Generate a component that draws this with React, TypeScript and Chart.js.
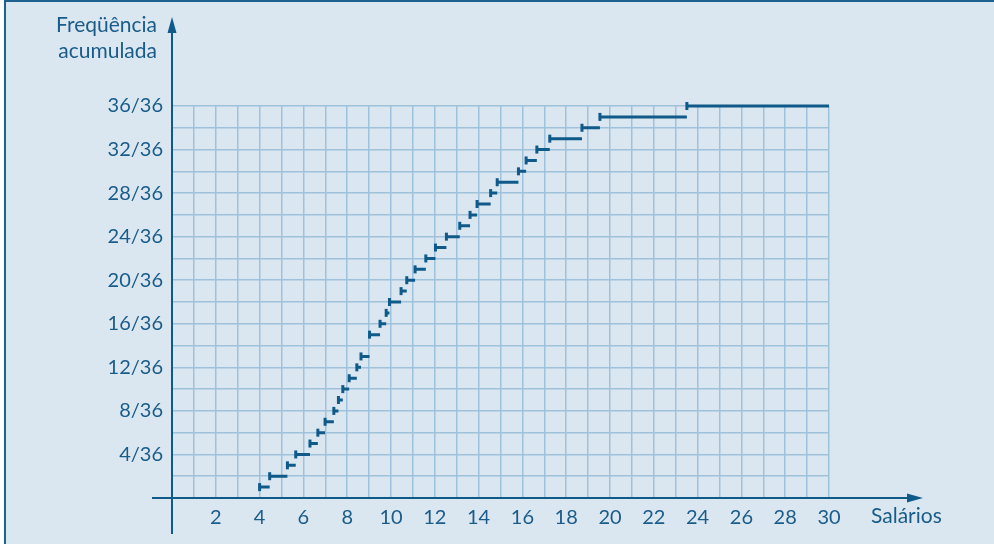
import React, { useEffect, useRef } from "react";
import { Chart, registerables } from "chart.js";

Chart.register(...registerables);

// Cumulative frequency levels (k/36) and the salary where each level starts
const cumFreq = [1, 2, 3, 4, 5, 6, 7, 8, 9, 10, 11, 12, 13, 15, 16, 17, 18, 19, 20, 21, 22, 23, 24, 25, 26, 27, 28, 29, 30, 31, 32, 33, 34, 35, 36];
const stepStarts = [4.0, 4.46, 5.27, 5.65, 6.3, 6.66, 6.99, 7.39, 7.6, 7.8, 8.09, 8.44, 8.63, 9.02, 9.5, 9.78, 9.93, 10.46, 10.72, 11.1, 11.59, 12.03, 12.53, 13.14, 13.61, 13.93, 14.55, 14.85, 15.82, 16.17, 16.66, 17.25, 18.72, 19.54, 23.51];
const salaryMax = 30;
const totalCount = 36;
const xTickLabels = [2, 4, 6, 8, 10, 12, 14, 16, 18, 20, 22, 24, 26, 28, 30];
const yTickLabels = [4, 8, 12, 16, 20, 24, 28, 32, 36];
const yTitleLines = ["Freqüência", "acumulada"];
const xTitle = "Salários";

const INK = "#0f5a88";
const TEXT = "#1a5c89";
const GRID = "#9fc2dc";
const FONT = "Lato, 'Noto Sans', sans-serif";

export default function App() {
  const ref = useRef<HTMLCanvasElement | null>(null);

  useEffect(() => {
    if (!ref.current) return;
    const segData: any[] = [];
    stepStarts.forEach((s, i) => {
      const e = i + 1 < stepStarts.length ? stepStarts[i + 1] : salaryMax;
      segData.push({ x: s, y: cumFreq[i] });
      segData.push({ x: e, y: cumFreq[i] });
      segData.push({ x: e, y: null });
    });
    const markData = stepStarts.map((s, i) => ({ x: s, y: cumFreq[i] }));

    const axesPlugin = {
      id: "axesArrows",
      afterDraw(chart: any) {
        const ctx = chart.ctx;
        const xs = chart.scales.x;
        const ys = chart.scales.y;
        const x0 = xs.getPixelForValue(0);
        const y0 = ys.getPixelForValue(0);
        ctx.save();
        ctx.strokeStyle = INK;
        ctx.fillStyle = INK;
        ctx.lineWidth = 2;
        // y axis
        ctx.beginPath();
        ctx.moveTo(x0, 534);
        ctx.lineTo(x0, 30);
        ctx.stroke();
        ctx.beginPath();
        ctx.moveTo(x0, 17);
        ctx.lineTo(x0 - 4.5, 33);
        ctx.lineTo(x0 + 4.5, 33);
        ctx.closePath();
        ctx.fill();
        // x axis
        ctx.beginPath();
        ctx.moveTo(152, y0);
        ctx.lineTo(910, y0);
        ctx.stroke();
        ctx.beginPath();
        ctx.moveTo(923, y0);
        ctx.lineTo(907, y0 - 4.5);
        ctx.lineTo(907, y0 + 4.5);
        ctx.closePath();
        ctx.fill();
        // titles
        ctx.fillStyle = TEXT;
        ctx.font = `21px ${FONT}`;
        ctx.textAlign = "right";
        ctx.textBaseline = "alphabetic";
        ctx.fillText(yTitleLines[0], 157, 32);
        ctx.fillText(yTitleLines[1], 157, 58);
        ctx.textAlign = "left";
        ctx.fillText(xTitle, 871, 523);
        ctx.restore();
      },
    };

    const chart = new Chart(ref.current, {
      type: "scatter",
      data: {
        datasets: [
          {
            type: "line",
            data: segData,
            borderColor: INK,
            borderWidth: 3,
            pointRadius: 0,
            spanGaps: false,
            borderCapStyle: "butt",
            fill: false,
            clip: false,
          } as any,
          {
            type: "scatter",
            data: markData,
            pointStyle: "line",
            rotation: 90,
            pointRadius: 4,
            borderColor: INK,
            backgroundColor: INK,
            borderWidth: 3,
            clip: false,
          } as any,
        ],
      },
      options: {
        animation: false,
        responsive: false,
        devicePixelRatio: 1,
        layout: { padding: { top: 106, right: 165, left: 0, bottom: 0 } },
        plugins: { legend: { display: false }, tooltip: { enabled: false } },
        events: [],
        scales: {
          x: {
            type: "linear",
            min: 0,
            max: salaryMax,
            afterFit: (s: any) => {
              s.height = 46;
            },
            border: { display: false },
            grid: { color: GRID, lineWidth: 1.5, drawTicks: false },
            ticks: {
              stepSize: 1,
              autoSkip: false,
              maxRotation: 0,
              padding: 8,
              color: TEXT,
              font: { family: FONT, size: 20 },
              callback: (v: any) => (xTickLabels.includes(Number(v)) ? String(v) : ""),
            },
          },
          y: {
            type: "linear",
            min: 0,
            max: totalCount,
            afterFit: (s: any) => {
              s.width = 172;
            },
            border: { display: false },
            grid: { color: GRID, lineWidth: 1.5, drawTicks: false },
            ticks: {
              stepSize: 2,
              autoSkip: false,
              padding: 9,
              color: TEXT,
              font: { family: FONT, size: 20 },
              callback: (v: any) => (yTickLabels.includes(Number(v)) ? `${v}/${totalCount}` : ""),
            },
          },
        },
      },
      plugins: [axesPlugin],
    });
    return () => chart.destroy();
  }, []);

  return (
    <div style={{ position: "fixed", left: 0, top: 0, width: 994, height: 544, background: "#ffffff", overflow: "hidden" }}>
      <div
        style={{
          position: "absolute",
          left: 4,
          top: 0,
          width: 990,
          height: 544,
          background: "#dae6f0",
          borderLeft: "2px solid #1d628f",
          borderTop: "2px solid #1d628f",
          boxSizing: "border-box",
        }}
      />
      <canvas ref={ref} width={994} height={544} style={{ position: "absolute", left: 0, top: 0, width: 994, height: 544 }} />
    </div>
  );
}
